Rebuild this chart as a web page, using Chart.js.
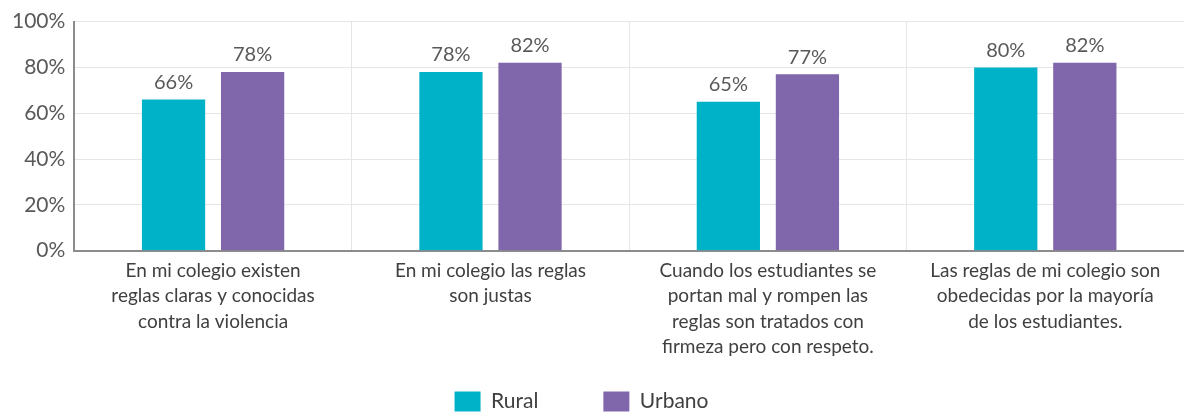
<!DOCTYPE html>
<html>
<head>
<meta charset="utf-8">
<script src="https://cdn.jsdelivr.net/npm/chart.js@4/dist/chart.umd.min.js"></script>
<style>
  html, body { margin: 0; padding: 0; background: #fff; }
  #wrap { width: 1184px; height: 412px; overflow: hidden; }
  #box { width: 1184px; height: 463px; }
</style>
</head>
<body>
<div id="wrap"><div id="box"><canvas id="chart"></canvas></div></div>
<script>
// categorias (una linea por elemento)
const categorias = [
  ["En mi colegio existen", "reglas claras y conocidas", "contra la violencia"],
  ["En mi colegio las reglas", "son justas"],
  ["Cuando los estudiantes se", "portan mal y rompen las", "reglas son tratados con", "firmeza pero con respeto."],
  ["Las reglas de mi colegio son", "obedecidas por la mayoría", "de los estudiantes."]
];
const rural = [66, 78, 65, 80];
const urbano = [78, 82, 77, 82];
const yTicks = [0, 20, 40, 60, 80, 100];

const fuente = "Lato, 'Open Sans', sans-serif";

// etiquetas de valor encima de cada barra
const etiquetas = {
  id: "etiquetas",
  afterDatasetsDraw(chart) {
    const ctx = chart.ctx;
    ctx.save();
    ctx.font = "20px " + fuente;
    ctx.fillStyle = "#595959";
    ctx.textAlign = "center";
    ctx.textBaseline = "bottom";
    chart.data.datasets.forEach((ds, i) => {
      chart.getDatasetMeta(i).data.forEach((bar, j) => {
        ctx.fillText(ds.data[j] + "%", bar.x, bar.y - 7);
      });
    });
    ctx.restore();
  }
};

// la leyenda sube y se corre un poco, como en el original
const moverLeyenda = {
  id: "moverLeyenda",
  afterLayout(chart) {
    const lg = chart.legend;
    lg.top -= 41;
    lg.bottom -= 41;
    lg.left -= 12;
    lg.right -= 12;
  }
};

new Chart(document.getElementById("chart"), {
  type: "bar",
  data: {
    labels: categorias,
    datasets: [
      { label: "Rural", data: rural, backgroundColor: "#00B2C8" },
      { label: "Urbano", data: urbano, backgroundColor: "#8066AB" }
    ]
  },
  options: {
    responsive: true,
    maintainAspectRatio: false,
    animation: false,
    layout: { padding: { top: 11, left: 3, right: 0, bottom: 0 } },
    datasets: { bar: { categoryPercentage: 0.57, barPercentage: 0.8 } },
    scales: {
      x: {
        grid: { color: "#e6e6e6", drawTicks: false, offset: true },
        border: { color: "#8c8c8c", width: 2 },
        ticks: {
          font: { family: fuente, size: 19, lineHeight: 1.32 },
          color: "#404040",
          padding: 8,
          maxRotation: 0,
          autoSkip: false
        }
      },
      y: {
        min: 0,
        max: 100,
        afterBuildTicks(axis) { axis.ticks = yTicks.map(v => ({ value: v })); },
        grid: { color: "#e6e6e6", drawTicks: false },
        border: { color: "#8c8c8c", width: 2 },
        ticks: {
          font: { family: fuente, size: 21 },
          color: "#595959",
          padding: 9,
          callback: v => v + "%"
        }
      }
    },
    plugins: {
      tooltip: { enabled: false },
      legend: {
        position: "bottom",
        labels: {
          font: { family: fuente, size: 21 },
          color: "#404040",
          boxWidth: 26,
          boxHeight: 20,
          padding: 65
        }
      }
    }
  },
  plugins: [etiquetas, moverLeyenda]
});
</script>
</body>
</html>
